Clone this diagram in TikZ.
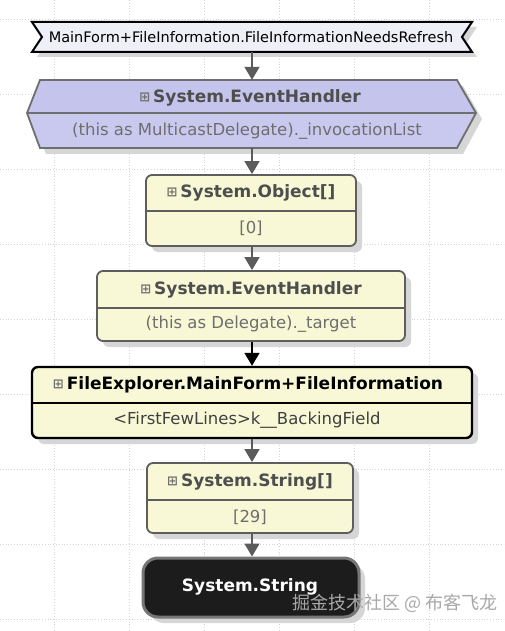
\documentclass[tikz,border=0pt]{standalone}
\usepackage{fontspec}
\setmainfont{DejaVu Sans}
\newfontfamily\cjk{Noto Sans CJK SC}
\usetikzlibrary{arrows.meta}
\definecolor{gridc}{HTML}{D4D4D4}
\definecolor{shadowc}{HTML}{D6D6D6}
\definecolor{lav}{HTML}{C9C9EF}
\definecolor{lavtop}{HTML}{C4C4EC}
\definecolor{banfill}{HTML}{EFEFF7}
\definecolor{yel}{HTML}{F8F8D6}
\definecolor{bordgray}{HTML}{5E5E5E}
\definecolor{hdrgray}{HTML}{4E4E4E}
\definecolor{bodygray}{HTML}{6E6E6E}
\definecolor{arrgray}{HTML}{5C5C5C}
\definecolor{darkfill}{HTML}{1C1C1C}
\definecolor{wm}{HTML}{A8A8A8}
\tikzset{
  boxy/.style={draw=bordgray, line width=1.8pt, fill=yel, rounded corners=6pt, inner sep=0pt},
  shad/.style={fill=shadowc, draw=none, rounded corners=6pt},
  hdr/.style={font=\fontsize{17}{19}\selectfont\bfseries, text=hdrgray, inner sep=0pt, anchor=center},
  bdy/.style={font=\fontsize{16.5}{18}\selectfont, text=bodygray, inner sep=0pt, anchor=center},
  conn/.style={draw=arrgray, line width=1.6pt, -{Triangle[width=15pt,length=13pt]}},
  divl/.style={draw=bordgray, line width=1.5pt},
}
\newcommand{\plusicon}{\raisebox{1pt}{\fontsize{13}{13}\selectfont\textcolor{hdrgray!80}{⊞}}\hspace{3pt}}
\begin{document}
\begin{tikzpicture}[x=1pt,y=-1pt]
\useasboundingbox (0,0) rectangle (504,631);
\fill[white] (0,0) rectangle (504,631);
% grid
\foreach \gx in {54,129,204,279,354,429}
  \draw[gridc, dotted, line width=0.8pt] (\gx,0) -- (\gx,631);
\foreach \gy in {19,94,169,244,319,394,469,544,619}
  \draw[gridc, dotted, line width=0.8pt] (0,\gy) -- (504,\gy);

% ---- banner
\fill[shadowc] (37,27) -- (477,27) -- (467,42) -- (477,57) -- (37,57) -- (47,42) -- cycle;
\draw[line width=2pt, fill=banfill, line join=miter] (32,22) -- (472,22) -- (462,37) -- (472,52) -- (32,52) -- (42,37) -- cycle;
\node[inner sep=0pt, minimum width=440pt, minimum height=30pt] (ban) at (252,37) {};
\node[font=\fontsize{14.5}{16}\selectfont, inner sep=0pt] (bantext) at (251,37) {MainForm+FileInformation.FileInformationNeedsRefresh};

% ---- hexagon
\fill[shadowc] (46,86) -- (463,86) -- (482,119) -- (463,154) -- (46,154) -- (33,119) -- cycle;
\fill[lav] (40,80) -- (457,80) -- (476,113) -- (457,148) -- (40,148) -- (27,113) -- cycle;
\fill[lavtop] (40,80) -- (457,80) -- (476,113) -- (27,113) -- cycle;
\draw[divl, draw=bordgray!90] (27,113) -- (476,113);
\draw[draw=bordgray!90, line width=1.8pt, line join=miter] (40,80) -- (457,80) -- (476,113) -- (457,148) -- (40,148) -- (27,113) -- cycle;
\node[inner sep=0pt, minimum width=449pt, minimum height=68pt] (hex) at (252,114) {};
\node[hdr] (hexh) at (250,98) {\plusicon System.EventHandler};
\node[bdy] (hexb) at (247,131) {(this as MulticastDelegate).\_invocationList};

% ---- System.Object[]
\fill[shad] (152,181) rectangle (362,252);
\node[boxy, minimum width=210pt, minimum height=71pt] (obj) at (251,210.5) {};
\draw[divl] (obj.west |- 0,211) -- (obj.east |- 0,211);
\node[hdr] (objh) at (251,193) {\plusicon System.Object[]};
\node[bdy] (objb) at (251,228) {[0]};

% ---- System.EventHandler (target)
\fill[shad] (103,277) rectangle (411,347);
\node[boxy, minimum width=308pt, minimum height=70pt] (eh) at (251,306) {};
\draw[divl] (eh.west |- 0,308) -- (eh.east |- 0,308);
\node[hdr] (ehh) at (251,290) {\plusicon System.EventHandler};
\node[bdy] (ehb) at (251,324) {(this as Delegate).\_target};

% ---- FileExplorer.MainForm+FileInformation
\fill[shad] (38,373) rectangle (478,444);
\node[boxy, draw=black, line width=2.4pt, minimum width=440pt, minimum height=71pt] (fi) at (252,402.5) {};
\draw[divl, draw=black, line width=1.8pt] (fi.west |- 0,403) -- (fi.east |- 0,403);
\node[hdr, text=black] (fih) at (248,385) {\plusicon FileExplorer.MainForm+FileInformation};
\node[bdy, text=black!75] (fib) at (247,420) {<FirstFewLines>k\_\_BackingField};

% ---- System.String[]
\fill[shad] (153,469) rectangle (359,539);
\node[boxy, minimum width=206pt, minimum height=70pt] (str) at (250,498) {};
\draw[divl] (str.west |- 0,500) -- (str.east |- 0,500);
\node[hdr] (strh) at (250,482) {\plusicon System.String[]};
\node[bdy] (strb) at (250,517) {[29]};

% ---- System.String (dark)
\fill[shadowc, rounded corners=15pt] (149,564) rectangle (365,623);
\node[draw=bordgray!85, line width=3pt, fill=darkfill, rounded corners=15pt, minimum width=216pt, minimum height=59pt, inner sep=0pt] (sstr) at (251,587.5) {};
\node[hdr, text=white] (sstrh) at (250,587) {System.String};

% ---- connectors
\draw[conn] (ban.south) -- (hex.north);
\draw[conn] (hex.south) -- (obj.north -| hex.south);
\draw[conn] (obj.south -| hex.south) -- (eh.north -| hex.south);
\draw[conn, draw=black] (eh.south -| hex.south) -- (fi.north);
\draw[conn] (fi.south) -- (str.north -| fi.south);
\draw[conn] (str.south -| fi.south) -- (sstr.north -| fi.south);

% ---- watermark
\node[font=\cjk\fontsize{18}{20}\selectfont, text=wm, inner sep=0pt] (wmk) at (395,603) {掘金技术社区 @ 布客飞龙};
\end{tikzpicture}
\end{document}
